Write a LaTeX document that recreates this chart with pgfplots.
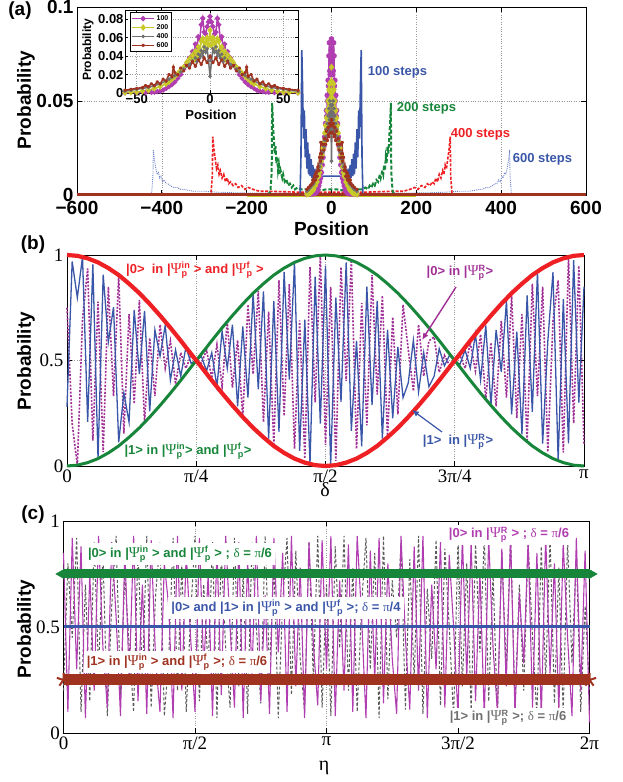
\documentclass[border=0pt]{standalone}
\usepackage{amsmath}
\usepackage{fontspec}
\setmainfont{Liberation Sans}
\newfontfamily\serif{Liberation Serif}
\usepackage{pgfplots}
\usepackage{pgfplotstable}
\usetikzlibrary{arrows.meta}
\pgfplotsset{compat=1.18}
\definecolor{cblue}{RGB}{58,86,168}
\definecolor{cgreen}{RGB}{24,134,58}
\definecolor{cred}{RGB}{238,32,36}
\definecolor{cmag}{RGB}{176,62,176}
\definecolor{cpur}{RGB}{160,48,150}
\definecolor{cyel}{RGB}{200,200,40}
\definecolor{cgray}{RGB}{112,112,112}
\definecolor{cbrown}{RGB}{160,50,32}
\definecolor{clblue}{RGB}{110,130,205}
\definecolor{cdgray}{RGB}{90,90,90}
\newcommand{\gr}[1]{{\serif\mdseries #1}}
\newcommand{\PS}[1]{{\serif\mdseries\fontsize{15}{15}\selectfont Ψ}$^{\text{#1}}_{\text{p}}$}

% ---------- panel (a) data ----------
\pgfplotstableread{
x y
-58 0.0003
-50 0.0004
-44 0.0006
-40 0.0008
-38 0.001
-36 0.0015
-34 0.002
-32 0.003
-30 0.005
-28 0.007
-26 0.009
-24 0.012
-22 0.016
-20 0.02
-18 0.026
-16 0.031
-14 0.038
-12 0.045
-11 0.042
-10 0.053
-9 0.05
-8 0.061
-7 0.058
-6 0.074
-5 0.081
-4 0.066
-3 0.064
-2 0.072
-1 0.077
0 0.083
1 0.077
2 0.072
3 0.064
4 0.066
5 0.081
6 0.074
7 0.058
8 0.061
9 0.05
10 0.053
11 0.042
12 0.045
14 0.038
16 0.031
18 0.026
20 0.02
22 0.016
24 0.012
26 0.009
28 0.007
30 0.005
32 0.003
34 0.002
36 0.0015
38 0.001
40 0.0008
44 0.0006
50 0.0004
60 0.0003
}\tabM
\pgfplotstableread{
x y
-58 0.0005
-54 0.0008
-50 0.001
-46 0.002
-42 0.003
-38 0.005
-34 0.007
-30 0.01
-28 0.012
-26 0.015
-24 0.018
-22 0.021
-20 0.025
-18 0.028
-16 0.033
-14 0.037
-12 0.041
-11 0.036
-10 0.045
-9 0.04
-8 0.05
-7 0.046
-6 0.056
-5 0.059
-4 0.05
-3 0.055
-2 0.06
-1 0.052
0 0.068
1 0.052
2 0.06
3 0.055
4 0.05
5 0.059
6 0.056
7 0.046
8 0.05
9 0.04
10 0.045
11 0.036
12 0.041
14 0.037
16 0.033
18 0.028
20 0.025
22 0.021
24 0.018
26 0.015
28 0.012
30 0.01
34 0.007
38 0.005
42 0.003
46 0.002
50 0.001
54 0.0008
60 0.0005
}\tabY
\pgfplotstableread{
x y
-58 0.002
-54 0.003
-50 0.004
-46 0.005
-42 0.006
-38 0.008
-34 0.01
-30 0.013
-28 0.015
-26 0.017
-24 0.019
-22 0.02
-20 0.023
-18 0.026
-16 0.029
-14 0.031
-12 0.035
-10 0.038
-9 0.034
-8 0.042
-7 0.038
-6 0.046
-5 0.04
-4 0.05
-3 0.044
-2 0.048
-1 0.035
0 0.018
1 0.035
2 0.048
3 0.044
4 0.05
5 0.04
6 0.046
7 0.038
8 0.042
9 0.034
10 0.038
12 0.035
14 0.031
16 0.029
18 0.026
20 0.023
22 0.02
24 0.019
26 0.017
28 0.015
30 0.013
34 0.01
38 0.008
42 0.006
46 0.005
50 0.004
54 0.003
60 0.002
}\tabG
\pgfplotstableread{
x y
-58 0.003
-54 0.004
-50 0.005
-46 0.006
-44 0.008
-42 0.007
-40 0.01
-38 0.008
-36 0.012
-34 0.01
-32 0.015
-30 0.013
-28 0.02
-26 0.018
-25 0.028
-24 0.022
-22 0.02
-20 0.027
-18 0.024
-16 0.03
-14 0.027
-12 0.034
-10 0.029
-8 0.036
-6 0.031
-4 0.038
-2 0.033
0 0.04
2 0.033
4 0.038
6 0.031
8 0.036
10 0.029
12 0.034
14 0.027
16 0.03
18 0.024
20 0.027
22 0.02
24 0.022
25 0.028
26 0.018
28 0.02
30 0.013
32 0.015
34 0.01
36 0.012
38 0.008
40 0.01
42 0.007
44 0.008
46 0.006
50 0.005
54 0.004
60 0.003
}\tabR
\pgfplotstableread{
x y
-76 0
-74 0.001
-72 0.02
-70 0.077
-68 0.055
-66 0.03
-64 0.045
-62 0.02
-60 0.035
-58 0.014
-56 0.028
-54 0.011
-52 0.022
-50 0.01
-48 0.019
-46 0.009
-44 0.016
-42 0.009
-40 0.014
-38 0.009
-36 0.012
-34 0.009
-32 0.011
-30 0.009
-26 0.0095
-20 0.01
-10 0.01
0 0.01
10 0.01
20 0.01
26 0.0095
30 0.009
32 0.011
34 0.009
36 0.012
38 0.009
40 0.014
42 0.009
44 0.016
46 0.009
48 0.019
50 0.01
52 0.022
54 0.011
56 0.028
58 0.014
60 0.035
62 0.02
64 0.045
66 0.03
68 0.055
70 0.077
72 0.02
74 0.001
76 0
}\tabBa
\pgfplotstableread{
x y
-150 0
-144 0.002
-141 0.012
-140 0.049
-138 0.038
-136 0.03
-134 0.022
-132 0.026
-130 0.017
-128 0.02
-126 0.013
-124 0.016
-122 0.011
-120 0.013
-116 0.009
-114 0.011
-110 0.007
-106 0.008
-102 0.005
-98 0.006
-94 0.004
-90 0.005
-86 0.003
-80 0.004
-72 0.003
-60 0.003
-48 0.0025
-36 0.003
-24 0.0025
-12 0.003
0 0.003
12 0.003
24 0.0025
36 0.003
48 0.0025
60 0.003
72 0.003
80 0.004
86 0.003
90 0.005
94 0.004
98 0.006
102 0.005
106 0.008
110 0.007
114 0.011
116 0.009
120 0.013
122 0.011
124 0.016
126 0.013
128 0.02
130 0.017
132 0.026
134 0.022
136 0.03
138 0.038
140 0.049
141 0.012
144 0.002
150 0
}\tabBb
\pgfplotstableread{
x y
-292 0
-284 0.001
-281 0.01
-280 0.031
-277 0.024
-274 0.019
-271 0.014
-268 0.016
-265 0.011
-262 0.013
-258 0.009
-254 0.011
-250 0.007
-246 0.009
-242 0.006
-238 0.007
-232 0.005
-226 0.006
-220 0.004
-212 0.005
-204 0.003
-196 0.004
-185 0.003
-170 0.002
-150 0.002
-120 0.0018
-80 0.0015
-40 0.0015
0 0.0015
40 0.0015
80 0.0015
120 0.0018
150 0.002
170 0.002
185 0.003
196 0.004
204 0.003
212 0.005
220 0.004
226 0.006
232 0.005
238 0.007
242 0.006
246 0.009
250 0.007
254 0.011
258 0.009
262 0.013
265 0.011
268 0.016
271 0.014
274 0.019
277 0.024
280 0.031
281 0.01
284 0.001
292 0
}\tabBc
\pgfplotstableread{
x y
-432 0
-424 0.001
-421 0.01
-420 0.024
-417 0.018
-414 0.014
-411 0.011
-408 0.012
-405 0.009
-402 0.01
-398 0.007
-394 0.008
-390 0.006
-386 0.006
-380 0.005
-372 0.004
-364 0.004
-356 0.003
-348 0.003
-338 0.0025
-325 0.002
-300 0.002
-270 0.0015
-230 0.0012
-180 0.001
-120 0.001
-60 0.001
0 0.001
60 0.001
120 0.001
180 0.001
230 0.0012
270 0.0015
300 0.002
325 0.002
338 0.0025
348 0.003
356 0.003
364 0.004
372 0.004
380 0.005
386 0.006
390 0.006
394 0.008
398 0.007
402 0.01
405 0.009
408 0.012
411 0.011
414 0.014
417 0.018
420 0.024
421 0.01
424 0.001
432 0
}\tabBd

% ---------- panel (b) data ----------
\pgfplotstableread{
y
0.28
0.969
0.798
0.991
0.209
0.956
0.035
0.907
0.588
0.753
0.112
0.346
0.208
0.740
0.436
0.735
0.259
0.645
0.521
0.666
0.407
0.550
0.425
0.563
0.487
0.5
0.519
0.45
0.537
0.376
0.639
0.463
0.670
0.283
0.661
0.324
0.819
0.363
0.828
0.130
0.783
0.162
0.920
0.410
0.965
0.072
0.694
0.009
0.897
0.201
0.95
0.001
0.798
0.304
0.965
0.167
0.593
0.093
0.850
0.289
0.783
0.130
0.646
0.226
0.564
0.324
0.393
0.596
0.351
0.537
0.376
0.425
0.556
0.475
0.525
0.5
0.481
0.55
0.463
0.625
0.407
0.666
0.287
0.645
0.446
0.782
0.245
0.637
0.150
0.808
0.257
0.922
0.106
0.591
0.919
0.025
0.791
0.107
0.976
0.300
0.85
}\blueB
\pgfplotstableread{
y
0.75
0.201
0.004
0.696
0.936
0.120
0.779
0.066
0.850
0.331
0.905
0.153
0.719
0.295
0.787
0.206
0.607
0.331
0.670
0.463
0.593
0.388
0.537
0.463
0.525
0.5
0.487
0.55
0.416
0.575
0.376
0.684
0.372
0.596
0.232
0.765
0.436
0.829
0.208
0.731
0.096
0.880
0.237
0.862
0.082
0.690
0.035
0.942
0.302
0.999
0.1
0.849
0.024
0.942
0.403
0.976
0.082
0.772
0.193
0.905
0.338
0.808
0.136
0.706
0.245
0.765
0.554
0.355
0.670
0.426
0.593
0.612
0.444
0.525
0.475
0.5
0.525
0.463
0.584
0.450
0.624
0.316
0.585
0.283
0.688
0.324
0.806
0.226
0.719
0.115
0.864
0.331
0.850
0.066
0.686
0.880
0.064
0.991
0.202
0.949
0.1
}\purB
\pgfplotstableread{
y
0
0.004
0.016
0.035
0.062
0.095
0.136
0.181
0.232
0.287
0.345
0.406
0.469
0.531
0.594
0.655
0.713
0.768
0.819
0.864
0.905
0.938
0.965
0.984
0.996
1
0.996
0.984
0.965
0.938
0.905
0.864
0.819
0.768
0.713
0.655
0.594
0.531
0.469
0.406
0.345
0.287
0.232
0.181
0.136
0.095
0.062
0.035
0.016
0.004
0
}\greenB
\pgfplotstableread{
y
1
0.996
0.984
0.965
0.938
0.905
0.864
0.819
0.768
0.713
0.655
0.594
0.531
0.469
0.406
0.345
0.287
0.232
0.181
0.136
0.095
0.062
0.035
0.016
0.004
0
0.004
0.016
0.035
0.062
0.095
0.136
0.181
0.232
0.287
0.345
0.406
0.469
0.531
0.594
0.655
0.713
0.768
0.819
0.864
0.905
0.938
0.965
0.984
0.996
1
}\redB

% ---------- panel (c) data ----------
\pgfplotstableread{
y
0.85
0.1
0.92
0.3
0.88
0.07
0.75
0.2
0.93
0.4
0.12
0.9
0.55
0.08
0.86
0.25
0.93
0.15
0.7
0.09
0.91
0.35
0.1
0.8
0.6
0.07
0.93
0.2
0.85
0.45
0.1
0.92
0.3
0.75
0.08
0.88
0.18
0.93
0.5
0.12
0.9
0.07
0.82
0.28
0.93
0.15
0.65
0.09
0.92
0.38
0.85
0.1
0.93
0.22
0.78
0.07
0.9
0.42
0.13
0.91
0.3
0.93
0.08
0.72
0.2
0.89
0.1
0.93
0.55
0.07
0.86
0.25
0.92
0.14
0.8
0.35
0.09
0.93
0.45
0.11
0.88
0.2
0.93
0.07
0.7
0.3
0.9
0.12
0.84
0.5
0.08
0.93
0.26
0.9
0.15
0.76
0.07
0.92
0.4
0.1
0.87
0.22
0.93
0.09
0.66
0.33
0.91
0.12
0.85
0.07
0.93
0.28
0.8
0.1
0.9
0.45
0.08
0.92
0.2
0.86
0.05
}\magC
\pgfplotstableread{
y
0.2
0.8
0.45
0.92
0.1
0.7
0.15
0.9
0.3
0.85
0.08
0.6
0.93
0.18
0.75
0.4
0.1
0.88
0.25
0.93
0.12
0.65
0.9
0.08
0.35
0.92
0.2
0.8
0.1
0.55
0.93
0.15
0.7
0.3
0.9
0.07
0.85
0.4
0.12
0.92
0.22
0.75
0.09
0.9
0.5
0.14
0.93
0.28
0.8
0.07
0.62
0.92
0.18
0.86
0.35
0.1
0.9
0.25
0.93
0.12
0.7
0.08
0.88
0.4
0.93
0.2
0.78
0.1
0.6
0.92
0.3
0.85
0.07
0.93
0.16
0.72
0.45
0.9
0.11
0.82
0.25
0.93
0.09
0.68
0.35
0.91
0.13
0.87
0.5
0.07
0.92
0.22
0.8
0.1
0.9
0.38
0.93
0.15
0.75
0.08
0.86
0.3
0.93
0.12
0.7
0.2
0.9
0.45
0.08
0.88
0.25
0.93
0.14
0.78
0.09
0.91
0.33
0.85
0.1
0.6
0.2
}\grayC

\tikzset{lab/.style={font={\fontsize{13}{15}\selectfont\bfseries}, inner sep=1pt},
big/.style={font={\fontsize{19}{21}\selectfont\bfseries}, inner sep=0pt}}
\pgfplotsset{myax/.style={anchor=south west, scale only axis, scaled ticks=false,
  grid=major, major grid style={dotted, gray!80, line width=0.6pt},
  axis line style={line width=0.9pt}, major tick length=5pt,
  every tick/.style={black, line width=0.8pt}, clip=false}}

\begin{document}
\begin{tikzpicture}[x=1pt,y=1pt]
\useasboundingbox (0,0) rectangle (623,782);

% ================= (a) main =================
\begin{axis}[myax, at={(77pt,587pt)}, width=509pt, height=188pt,
  xmin=-600, xmax=600, ymin=0, ymax=0.1,
  xtick={-600,-400,-200,0,200,400,600},
  xticklabels={−600,−400,−200,0,200,400,600},
  ytick={0,0.05,0.1}, yticklabels={0,0.05,0.1},
  ticklabel style={font={\fontsize{19}{20}\selectfont\bfseries}},
  xticklabel style={yshift=-3pt}]
\addplot[clblue, line width=0.9pt, densely dotted] table {\tabBd};
\addplot[cred, line width=1.6pt, dash pattern=on 3pt off 1.5pt] table {\tabBc};
\addplot[cgreen, line width=2pt, dash pattern=on 4pt off 2pt] table {\tabBb};
\addplot[cblue, line width=1.6pt] table {\tabBa};
\addplot[cyel, line width=4pt] coordinates {(-200,0) (200,0)};
\addplot[cmag, line width=1.5pt, mark=*, mark size=2pt] table {\tabM};
\addplot[cyel, line width=1.5pt, mark=diamond*, mark size=2.4pt] table {\tabY};
\addplot[cgray, line width=1.5pt, mark=*, mark size=1pt] table {\tabG};
\addplot[cbrown, line width=3pt] coordinates {(-600,0) (600,0)};
\addplot[cbrown, line width=1.6pt, mark=star, mark size=1.6pt] table {\tabR};
\end{axis}

% ================= (a) inset =================
\begin{axis}[myax, at={(125pt,689pt)}, width=173pt, height=83pt,
  xmin=-58, xmax=60, ymin=0, ymax=0.09,
  axis background/.style={fill=white},
  xtick={-50,0,50}, xticklabels={−50,0,50},
  ytick={0,0.02,0.04,0.06,0.08}, yticklabels={0,0.02,0.04,0.06,0.08},
  major tick length=3pt,
  ticklabel style={font={\fontsize{13}{14}\selectfont\bfseries}},
  xticklabel style={yshift=2pt}, yticklabel style={xshift=2pt},
  legend style={at={(0.03,0.975)}, anchor=north west, draw=black, line width=0.8pt,
    font={\fontsize{7}{8}\selectfont\bfseries}, inner sep=1pt, row sep=-1.5pt,
    legend cell align=left},
  legend image code/.code={\draw[mark repeat=2,mark phase=2,#1] plot coordinates {(0cm,0cm) (0.38cm,0cm) (0.76cm,0cm)};}]
\addplot[cmag, line width=1.5pt, mark=*, mark size=1.8pt] table {\tabM};
\addplot[cyel, line width=1.5pt, mark=diamond*, mark size=2.2pt] table {\tabY};
\addplot[cgray, line width=1.5pt, mark=*, mark size=0.9pt] table {\tabG};
\addplot[cbrown, line width=1.5pt, mark=star, mark size=1.5pt] table {\tabR};
\legend{100,200,400,600}
\end{axis}

% ================= (b) =================
\begin{axis}[myax, at={(67pt,316pt)}, width=517pt, height=211pt,
  xmin=0, xmax=100, ymin=0, ymax=1,
  xtick={0,25,50,75,100}, xticklabels={0,π/4,π/2,3π/4,π},
  ytick={0,0.5,1}, yticklabels={0,0.5,1},
  ticklabel style={font={\serif\fontsize{19}{20}\selectfont}}]
\addplot[cpur, line width=1.6pt, dash pattern=on 2pt off 1.5pt] table[x expr=\coordindex, y=y] {\purB};
\addplot[cblue, line width=1.3pt] table[x expr=\coordindex, y=y] {\blueB};
\addplot[cgreen, line width=3pt] table[x expr=2*\coordindex, y=y] {\greenB};
\addplot[cred, line width=4.2pt] table[x expr=2*\coordindex, y=y] {\redB};
\end{axis}

% ================= (c) =================
\begin{axis}[myax, at={(63.5pt,49pt)}, width=526pt, height=212pt,
  xmin=0, xmax=120, ymin=0, ymax=1,
  xtick={0,30,60,90,120}, xticklabels={0,π/2,π,3π/2,2π},
  ytick={0,0.5,1}, yticklabels={0,0.5,1},
  ticklabel style={font={\serif\fontsize{19}{20}\selectfont}}]
\addplot[cdgray, line width=1pt, dash pattern=on 3pt off 2pt] table[x expr=\coordindex, y=y] {\grayC};
\addplot[cmag, line width=1.1pt] table[x expr=\coordindex, y=y] {\magC};
\addplot[cgreen, line width=9pt] coordinates {(0,0.75) (120,0.75)};
\addplot[cgreen, only marks, mark=triangle*, mark size=5.5pt, mark options={rotate=-90}] coordinates {(120.5,0.75)};
\addplot[cgreen, only marks, mark=triangle*, mark size=5.5pt, mark options={rotate=90}] coordinates {(-0.5,0.75)};
\addplot[cblue, line width=3pt] coordinates {(0,0.5) (120,0.5)};
\addplot[cbrown, line width=11pt] coordinates {(0,0.25) (120,0.25)};
\addplot[cbrown, only marks, mark=star, mark size=7pt, line width=2pt] coordinates {(0,0.25) (120,0.25)};
\end{axis}

% ================= texts =================
\node[big] at (20,771) {(a)};
\node[big] at (33,537) {(b)};
\node[big] at (33,267) {(c)};
\node[big, rotate=90] at (26,682) {Probability};
\node[big, rotate=90] at (26,421) {Probability};
\node[big, rotate=90] at (26,153) {Probability};
\node[big] at (331.5,553) {Position};
\node[font={\fontsize{13}{14}\selectfont\bfseries}, inner sep=0pt] at (211,667) {Position};
\node[font={\fontsize{12}{13}\selectfont\bfseries}, inner sep=0pt, rotate=90] at (88,732) {Probability};
\node[font={\serif\fontsize{20}{21}\selectfont}] at (325,292) {δ};
\node[font={\serif\fontsize{20}{21}\selectfont}] at (324,14) {η};

\node[lab, text=cblue] at (397.5,710) {100 steps};
\node[lab, text=cgreen] at (426.5,674) {200 steps};
\node[lab, text=cred] at (480.5,648) {400 steps};
\node[lab, text=cblue] at (542.5,623) {600 steps};

\node[lab, text=cred] at (195,512) {|0>\ \ in |\PS{in} > and |\PS{f} >};
\node[lab, text=cgreen] at (188,331) {|1> in |\PS{in}> and |\PS{f}>};
\node[lab, text=cpur] at (460,509) {|0> in |\PS{R}>};
\node[lab, text=cblue] at (458,340) {|1>\ \ in |\PS{R}>};
\draw[cpur, line width=1.4pt, -{Latex[length=7pt,width=6pt]}] (456,495) -- (422,442);
\draw[cblue, line width=1.2pt, -{Latex[length=7pt,width=6pt]}] (442,350) -- (412,372);

\node[lab, text=cgreen, fill=white, inner sep=3pt] at (180,228) {|0> in |\PS{in} > and |\PS{f} > ; \gr{δ} = \gr{π}/6};
\node[lab, text=cblue, fill=white, inner sep=3pt] at (286,174) {|0> and |1> in |\PS{in} > and |\PS{f} >; \gr{δ} = \gr{π}/4};
\node[lab, text=cbrown, fill=white, inner sep=3pt] at (177,120) {|1> in |\PS{in} > and |\PS{f} >; \gr{δ} = \gr{π}/6};
\node[lab, text=cmag, fill=white, inner sep=2pt] at (509,247) {|0> in |\PS{R} > ; \gr{δ} = \gr{π}/6};
\node[lab, text=cgray, fill=white, inner sep=2pt] at (508,64) {|1> in |\PS{R} >; \gr{δ} = \gr{π}/6};
\end{tikzpicture}
\end{document}
